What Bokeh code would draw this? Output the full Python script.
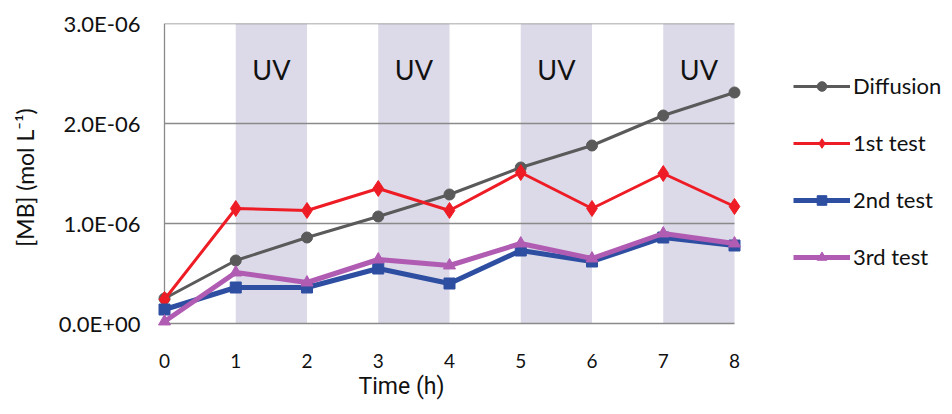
from bokeh.plotting import figure
from bokeh.models import (Range1d, FixedTicker, Legend, LegendItem, ColumnDataSource, Title)
from bokeh.core.properties import value
from bokeh.embed import file_html
from bokeh.resources import INLINE

# ---- data ----
time_h = [0, 1, 2, 3, 4, 5, 6, 7, 8]
diffusion = [0.25e-6, 0.63e-6, 0.86e-6, 1.07e-6, 1.29e-6, 1.56e-6, 1.78e-6, 2.08e-6, 2.31e-6]
test1 = [0.24e-6, 1.15e-6, 1.13e-6, 1.35e-6, 1.13e-6, 1.51e-6, 1.15e-6, 1.50e-6, 1.17e-6]
test2 = [0.14e-6, 0.36e-6, 0.36e-6, 0.55e-6, 0.40e-6, 0.73e-6, 0.62e-6, 0.86e-6, 0.78e-6]
test3 = [0.02e-6, 0.51e-6, 0.41e-6, 0.64e-6, 0.58e-6, 0.80e-6, 0.65e-6, 0.90e-6, 0.80e-6]
series_names = ["Diffusion", "1st test", "2nd test", "3rd test"]
uv_starts = [1, 3, 5, 7]
uv_label = "UV"
x_ticks = [0, 1, 2, 3, 4, 5, 6, 7, 8]
x_tick_labels = ["0", "1", "2", "3", "4", "5", "6", "7", "8"]
y_ticks = [0.0, 1.0e-6, 2.0e-6, 3.0e-6]
y_tick_labels = ["0.0E+00", "1.0E-06", "2.0E-06", "3.0E-06"]
x_title = "Time (h)"
y_title = "[MB] (mol L\u207b\u00b9)"

# ---- layout (pixels) ----
W, H = 951, 410
px_per_h = 71.25
px_per_y = 100 / 1e-6
pad_x = 9
pad_y = 8
frame_left = 164 - pad_x
frame_top = 23
frame_w = W - frame_left          # frame reaches the right edge so the legend is not clipped
frame_h = int(round((y_ticks[-1] - y_ticks[0]) * px_per_y + pad_y))

x_start = x_ticks[0] - pad_x / px_per_h
x_range = Range1d(x_start, x_start + frame_w / px_per_h)
y_range = Range1d(y_ticks[0] - pad_y / px_per_y, y_ticks[-1])

p = figure(width=W, height=H, x_range=x_range, y_range=y_range,
           output_backend="svg", toolbar_location=None,
           min_border_left=frame_left, min_border_top=frame_top,
           min_border_right=0,
           min_border_bottom=H - frame_top - frame_h)
p.outline_line_color = None
p.xgrid.visible = False
p.ygrid.visible = False
p.background_fill_color = "white"
p.border_fill_color = "white"

font = "Lato"
grid_col = "#8a8a8a"

# UV bands
p.quad(left=uv_starts, right=[s + 1 for s in uv_starts],
       bottom=y_ticks[0], top=y_ticks[-1],
       fill_color="#dcd9e8", line_color=None)

# grid lines and axis lines
p.segment(x0=x_ticks[0], x1=x_ticks[-1], y0=y_ticks, y1=y_ticks,
          line_color=grid_col, line_width=1.3)
p.segment(x0=x_ticks[0], x1=x_ticks[0], y0=y_ticks[0], y1=y_ticks[-1],
          line_color=grid_col, line_width=1.3)

# UV labels
p.text(x=[s + 0.5 for s in uv_starts], y=2.54e-6, text=[uv_label] * len(uv_starts),
       text_font=value(font), text_font_size="27px", text_color="#111111",
       text_align="center", text_baseline="middle")

styles = [
    dict(color="#5a5a5a", lw=3, marker="circle", size=11),
    dict(color="#ee1c25", lw=3, marker="diamond", size=16),
    dict(color="#2e4ea2", lw=5, marker="square", size=11),
    dict(color="#b15cb3", lw=5, marker="triangle", size=12),
]
series = [diffusion, test1, test2, test3]
items = []
for name, ys, st in zip(series_names, series, styles):
    src = ColumnDataSource(dict(x=time_h, y=ys))
    ln = p.line("x", "y", source=src, line_color=st["color"], line_width=st["lw"])
    mk = p.scatter("x", "y", source=src, marker=st["marker"], size=st["size"],
                   fill_color=st["color"], line_color=st["color"])
    items.append(LegendItem(label=name, renderers=[ln, mk]))

legend = Legend(items=items, location=(793 - frame_left, 61),
                orientation="vertical", padding=0, margin=0,
                glyph_width=57, glyph_height=24, label_height=24,
                spacing=30, label_standoff=3,
                label_text_font=font, label_text_font_size="22px",
                label_text_color="#111111",
                border_line_alpha=0, background_fill_alpha=0)
p.add_layout(legend, "center")

# axes
p.xaxis.ticker = FixedTicker(ticks=x_ticks)
p.xaxis.major_label_overrides = {t: l for t, l in zip(x_ticks, x_tick_labels)}
p.yaxis.ticker = FixedTicker(ticks=y_ticks)
p.yaxis.major_label_overrides = {t: l for t, l in zip(y_ticks, y_tick_labels)}
for ax in (p.xaxis[0], p.yaxis[0]):
    ax.axis_line_color = None
    ax.major_tick_line_color = None
    ax.minor_tick_line_color = None
    ax.major_tick_out = 0
    ax.major_tick_in = 0
    ax.minor_tick_out = 0
    ax.minor_tick_in = 0
    ax.major_label_text_font = font
    ax.major_label_text_color = "#111111"
    ax.axis_label_text_font_style = "normal"
    ax.axis_label_text_color = "#111111"
p.xaxis.major_label_text_font_size = "19px"
p.yaxis.major_label_text_font_size = "22px"
p.xaxis.major_label_standoff = 22
p.yaxis.major_label_standoff = 15
p.yaxis.axis_label = y_title
p.yaxis.axis_label_text_font = font
p.yaxis.axis_label_text_font_size = "23px"
p.yaxis.axis_label_standoff = 17

# x-axis title, placed below the axis and shifted to match the reference
xt = Title(text=x_title, align="left", offset=358 - frame_left, standoff=1,
           text_font="Roboto", text_font_size="23px", text_font_style="normal",
           text_color="#111111")
p.add_layout(xt, "below")

open("out.html", "w").write(file_html(p, INLINE))
